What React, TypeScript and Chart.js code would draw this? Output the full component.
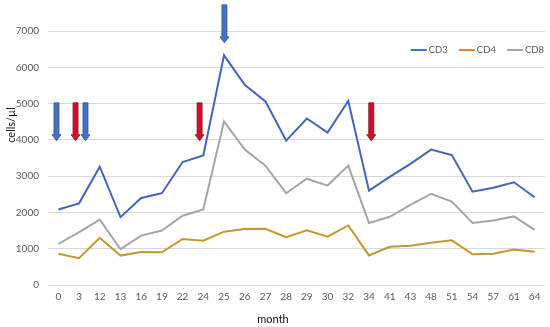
import React, { useEffect, useRef } from "react";
import { Chart, registerables } from "chart.js";

Chart.register(...registerables);

const months = ["0", "3", "12", "13", "16", "19", "22", "24", "25", "26", "27", "28", "29", "30", "32", "34", "41", "43", "48", "51", "54", "57", "61", "64"];
const cd3 = [2080, 2250, 3260, 1870, 2400, 2530, 3390, 3570, 6330, 5520, 5060, 3980, 4590, 4200, 5070, 2600, 2980, 3340, 3730, 3580, 2570, 2680, 2830, 2420];
const cd4 = [860, 740, 1300, 810, 910, 900, 1270, 1220, 1470, 1540, 1550, 1320, 1510, 1330, 1640, 815, 1055, 1085, 1165, 1230, 845, 860, 980, 915];
const cd8 = [1130, 1460, 1800, 990, 1360, 1500, 1910, 2080, 4510, 3730, 3290, 2530, 2930, 2740, 3290, 1710, 1880, 2210, 2510, 2300, 1710, 1780, 1890, 1520];
const yTicks = [0, 1000, 2000, 3000, 4000, 5000, 6000, 7000];

const seriesNames = ["CD3", "CD4", "CD8"];
const lineColors = ["#4563BC", "#BF9A2E", "#A5A5A5"];
const legendColors = ["#4472C4", "#ED7D31", "#A5A5A5"];

// arrow annotations: position on category index axis, value range (top -> tip)
const arrowAt = [-0.09, 0.83, 1.31, 6.82, 8.02, 15.11];
const arrowTop = [5020, 5020, 5020, 5020, 7720, 5020];
const arrowTip = [3975, 3975, 3975, 3975, 6675, 3975];
const arrowKind = ["blue", "red", "blue", "red", "blue", "red"];

const FONT = "Lato, 'Open Sans', sans-serif";

const overlayPlugin = {
  id: "overlay",
  afterDraw(chart: any) {
    const ctx = chart.ctx as CanvasRenderingContext2D;
    const xs = chart.scales.x;
    const ys = chart.scales.y;
    const area = chart.chartArea;

    // arrows
    arrowAt.forEach((a, i) => {
      const cx = xs.getPixelForValue(a);
      const top = ys.getPixelForValue(arrowTop[i]);
      const tip = ys.getPixelForValue(arrowTip[i]);
      const shaftW = 2.5;
      const headW = 4.5;
      const headL = 6;
      const fill = arrowKind[i] === "blue" ? "#4472C4" : "#D0102A";
      const stroke = arrowKind[i] === "blue" ? "#2F528F" : "#7F1020";
      ctx.save();
      ctx.beginPath();
      ctx.moveTo(cx - shaftW, top);
      ctx.lineTo(cx + shaftW, top);
      ctx.lineTo(cx + shaftW, tip - headL);
      ctx.lineTo(cx + headW, tip - headL);
      ctx.lineTo(cx, tip);
      ctx.lineTo(cx - headW, tip - headL);
      ctx.lineTo(cx - shaftW, tip - headL);
      ctx.closePath();
      ctx.fillStyle = fill;
      ctx.fill();
      ctx.lineWidth = 0.8;
      ctx.strokeStyle = stroke;
      ctx.stroke();
      ctx.restore();
    });

    // legend (right aligned)
    ctx.save();
    ctx.font = `9.5px ${FONT}`;
    ctx.textBaseline = "middle";
    const ly = area.top + 19;
    const lineLen = 16;
    const gap = 2;
    const itemGap = 11;
    const widths = seriesNames.map((n) => ctx.measureText(n).width);
    const total = widths.reduce((s, w) => s + lineLen + gap + w, 0) + itemGap * (seriesNames.length - 1);
    let lx = area.right - 1 - total;
    seriesNames.forEach((name, i) => {
      ctx.beginPath();
      ctx.moveTo(lx, ly);
      ctx.lineTo(lx + lineLen, ly);
      ctx.strokeStyle = legendColors[i];
      ctx.lineWidth = 2;
      ctx.stroke();
      ctx.fillStyle = "#595959";
      ctx.fillText(name, lx + lineLen + gap, ly);
      lx += lineLen + gap + widths[i] + itemGap;
    });
    ctx.restore();

    // axis titles
    ctx.save();
    ctx.fillStyle = "#111";
    ctx.font = `11px ${FONT}`;
    ctx.textAlign = "center";
    ctx.textBaseline = "middle";
    ctx.fillText("month", area.left + 225, 319);
    ctx.translate(11, area.top + 94);
    ctx.rotate(-Math.PI / 2);
    ctx.fillText("cells/µl", 0, 0);
    ctx.restore();
  },
};

export default function App() {
  const ref = useRef<HTMLCanvasElement | null>(null);
  useEffect(() => {
    document.body.style.margin = "0";
    const canvas = ref.current!;
    const chart = new Chart(canvas, {
      type: "line",
      data: {
        labels: months,
        datasets: [cd3, cd4, cd8].map((d, i) => ({
          label: seriesNames[i],
          data: d,
          borderColor: lineColors[i],
          backgroundColor: lineColors[i],
          borderWidth: 2,
          pointRadius: 0,
          tension: 0,
          fill: false,
        })),
      },
      options: {
        responsive: false,
        animation: false,
        devicePixelRatio: 1,
        layout: { padding: { top: 31, right: 5, left: 0, bottom: 0 } },
        plugins: { legend: { display: false }, tooltip: { enabled: false } },
        scales: {
          x: {
            offset: true,
            grid: { display: false, drawTicks: false },
            border: { display: false },
            ticks: { color: "#595959", font: { size: 10, family: FONT }, padding: 6, maxRotation: 0, autoSkip: false },
            afterFit: (s: any) => { s.height = 42; },
          },
          y: {
            min: 0,
            max: 7000,
            afterBuildTicks: (s: any) => { s.ticks = yTicks.map((v) => ({ value: v })); },
            grid: { color: "#D9D9D9", lineWidth: 1, drawTicks: false },
            border: { display: false },
            ticks: { color: "#595959", font: { size: 10, family: FONT }, padding: 9, callback: (v: any) => String(v) },
            afterFit: (s: any) => { s.width = 48; },
          },
        },
      },
      plugins: [overlayPlugin],
    });
    return () => chart.destroy();
  }, []);
  return (
    <div style={{ width: 550, height: 327, background: "#fff" }}>
      <canvas ref={ref} width={550} height={327} style={{ width: 550, height: 327, display: "block" }} />
    </div>
  );
}
